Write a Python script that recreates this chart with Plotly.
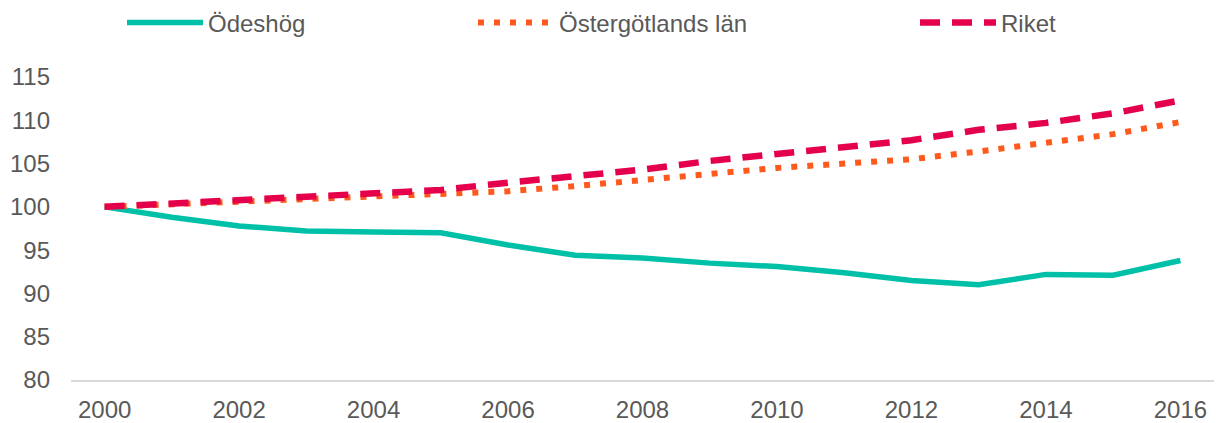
import plotly.graph_objects as go

years = list(range(2000, 2017))
odeshog = [100, 98.8, 97.8, 97.2, 97.1, 97.0, 95.6, 94.4, 94.1, 93.5, 93.1, 92.4, 91.5, 91.0, 92.2, 92.1, 93.8]
ostergotland = [100, 100.3, 100.5, 100.9, 101.2, 101.4, 101.8, 102.4, 103.1, 103.9, 104.5, 105.0, 105.5, 106.4, 107.4, 108.4, 109.8]
riket = [100, 100.4, 100.7, 101.1, 101.5, 101.95, 102.8, 103.6, 104.3, 105.3, 106.1, 106.8, 107.7, 108.9, 109.7, 110.8, 112.3]

names = ["Ödeshög", "Östergötlands län", "Riket"]
colors = ["#00C0A8", "#FF5A1E", "#E4004B"]
font_fam = "Liberation Sans, Arial, sans-serif"
txt_col = "#595959"
fs = 24

fig = go.Figure()
fig.add_trace(go.Scatter(x=years, y=odeshog, name=names[0], mode="lines",
                         line=dict(color=colors[0], width=5.5), legend="legend"))
fig.add_trace(go.Scatter(x=years, y=ostergotland, name=names[1], mode="lines",
                         line=dict(color=colors[1], width=6, dash="6px,10px"), legend="legend2"))
fig.add_trace(go.Scatter(x=years, y=riket, name=names[2], mode="lines",
                         line=dict(color=colors[2], width=6.5, dash="20px,12px"), legend="legend3"))

# page body has an 8px default margin; size the figure to fit the window
OFF = 8
W, H = 1223 - OFF, 423 - OFF
plot_left, plot_right, plot_top, plot_bottom = 71 - OFF, 1214 - OFF, 77 - OFF, 380 - OFF
ml, mr, mt, mb = plot_left, W - plot_right, plot_top, H - plot_bottom
pw = W - ml - mr
ph = H - mt - mb

def px_x(x):
    return (x - OFF - ml) / pw

def px_y(y):
    return (plot_bottom - (y - OFF)) / ph

leg_common = dict(orientation="h", yanchor="middle", xanchor="left",
                  font=dict(family=font_fam, size=fs, color=txt_col),
                  itemwidth=76, bgcolor="rgba(0,0,0,0)", borderwidth=0)

fig.update_layout(
    width=W, height=H,
    margin=dict(l=ml, r=mr, t=mt, b=mb, autoexpand=False),
    plot_bgcolor="white", paper_bgcolor="white",
    font=dict(family=font_fam, size=fs, color=txt_col),
    showlegend=True,
    legend=dict(x=px_x(122), y=px_y(23), **leg_common),
    legend2=dict(x=px_x(473), y=px_y(23), **leg_common),
    legend3=dict(x=px_x(915), y=px_y(23), **leg_common),
    xaxis=dict(range=[1999.5, 2016.5], tickmode="linear", tick0=2000, dtick=2,
               showgrid=False, zeroline=False, showline=True, linecolor="#D9D9D9",
               linewidth=1.5, ticks="", tickfont=dict(size=fs, color=txt_col),
               ticklabelstandoff=7, automargin=False),
    yaxis=dict(range=[80, 115], tickmode="linear", tick0=80, dtick=5,
               showgrid=False, zeroline=False, showline=False, ticks="",
               tickfont=dict(size=fs, color=txt_col), ticklabelstandoff=20,
               automargin=False),
)

fig.write_html("out.html")
